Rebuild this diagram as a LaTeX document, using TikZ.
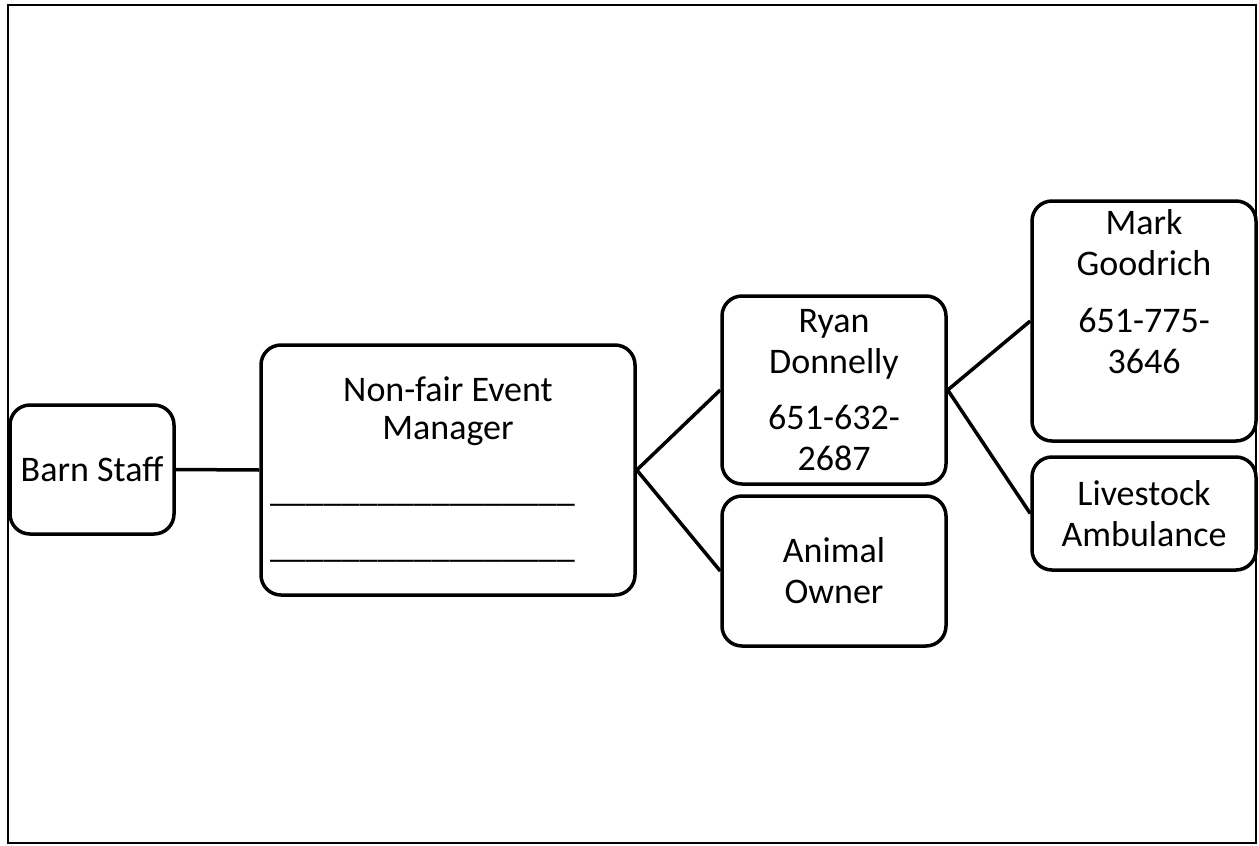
\documentclass[tikz,border=0pt]{standalone}
\usepackage{fontspec}
\setmainfont{Carlito}
\newcommand{\eventblank}{\makebox[356pt][l]{\_\_\_\_\_\_\_\_\_\_\_\_\_\_\_\_\_}}

\begin{document}
\begin{tikzpicture}[x=1pt,y=-1pt,
        box/.style={draw,line width=3.5pt,rounded corners=20pt,inner sep=4pt,
            align=center,font=\fontsize{36}{41}\selectfont},
        lbl/.style={inner sep=0pt,align=center,font=\fontsize{36}{41}\selectfont},
        link/.style={line width=3.5pt}]
                \useasboundingbox (0,0) rectangle (1259,846);
                \draw[line width=2pt] (8,5) rectangle (1256,843);

                \node[box,minimum width=164pt,minimum height=129pt] (staff) at (92,469.5) {Barn Staff};
                \node[box,minimum width=374pt,minimum height=250pt] (event) at (448,470)
                    {Non-fair Event\\[-3pt]Manager\\[21pt]\eventblank\\[15pt]\eventblank};

                \node[box,minimum width=224pt,minimum height=188pt] (ryan) at (834,390)
                    {Ryan\\Donnelly\\[15pt]651-632-\\2687};
                \node[box,minimum width=224pt,minimum height=150pt] (owner) at (834,571)
                    {Animal\\Owner};

                \node[box,minimum width=224pt,minimum height=240pt] (mark) at (1144,321) {};
                \node[lbl,anchor=north] (marktext) at (1144,209.5)
                    {Mark\\Goodrich\\[16pt]651-775-\\3646};
                \node[box,minimum width=224pt,minimum height=113pt] (ambulance) at (1144,513.5)
                    {Livestock\\Ambulance};

                \draw[link] (staff.east) -- (event.west);
                \draw[link] (event.east) -- (ryan.west);
                \draw[link] (event.east) -- (owner.west);
                \draw[link] (ryan.east) -- (mark.west);
                \draw[link] (ryan.east) -- (ambulance.west);
\end{tikzpicture}
\end{document}
